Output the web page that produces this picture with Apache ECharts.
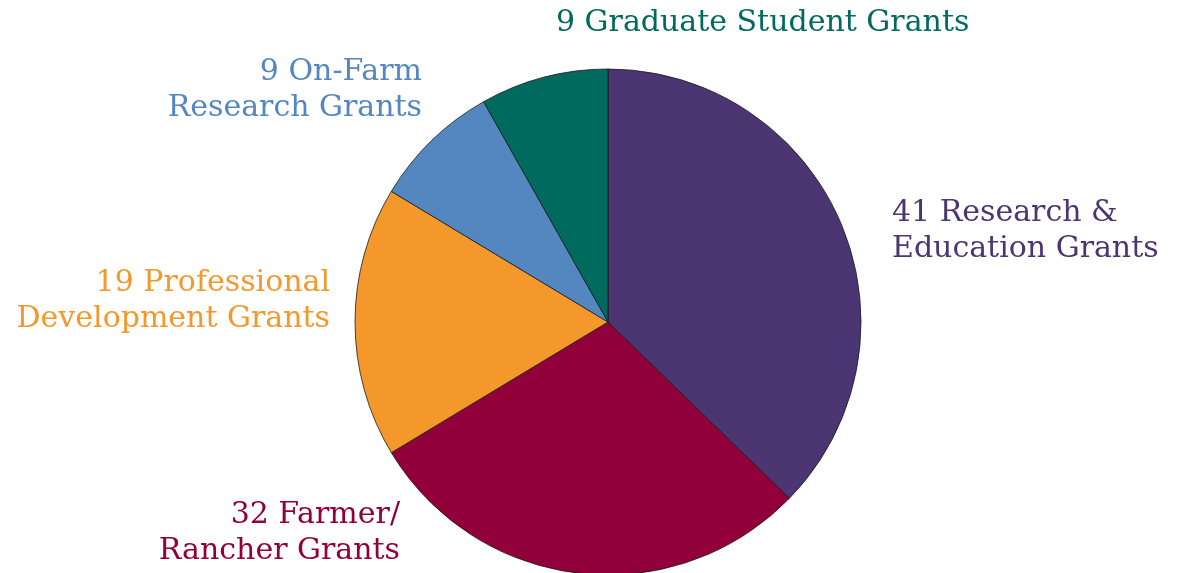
<!DOCTYPE html>
<html><head><meta charset="utf-8">
<script src="https://cdn.jsdelivr.net/npm/echarts@6/dist/echarts.min.js"></script>
<style>html,body{margin:0;padding:0;background:#fff}#c{width:1178px;height:573px}</style>
</head><body><div id="c"></div>
<script>
const categories = ["Research &\nEducation Grants", "Farmer/\nRancher Grants", "Professional\nDevelopment Grants", "On-Farm\nResearch Grants", "Graduate Student Grants"];
const values = [41, 32, 19, 9, 9];
const colors = ["#4B3573", "#92003B", "#F4982B", "#5487C0", "#006A5E"];
// label anchor layout (pixel positions of label blocks)
const labelPos = [
  {x: 892, y: 231, align: 'left'},
  {x: 400, y: 533, align: 'right'},
  {x: 330, y: 301, align: 'right'},
  {x: 422, y: 90, align: 'right'},
  {x: 556, y: 23, align: 'left'}
];
const chart = echarts.init(document.getElementById('c'), null, {renderer: 'canvas'});
chart.setOption({
  animation: false,
  series: [{
    type: 'pie',
    center: [608, 322],
    radius: 253,
    startAngle: 90,
    clockwise: true,
    data: categories.map((n, i) => ({
      name: n, value: values[i],
      itemStyle: {color: colors[i]},
      label: {color: colors[i]}
    })),
    itemStyle: {borderColor: '#1a1a1a', borderWidth: 0.8},
    label: {
      show: true,
      position: 'outside',
      formatter: p => p.value + ' ' + p.name,
      fontFamily: 'DejaVu Serif',
      fontSize: 30,
      lineHeight: 36,
      overflow: 'none',
      width: 500,
      edgeDistance: 0
    },
    labelLine: {show: false},
    labelLayout: function (params) {
      const p = labelPos[params.dataIndex];
      return {x: p.x, y: p.y, align: p.align, verticalAlign: 'middle'};
    },
    emphasis: {disabled: true}
  }]
});
</script></body></html>
